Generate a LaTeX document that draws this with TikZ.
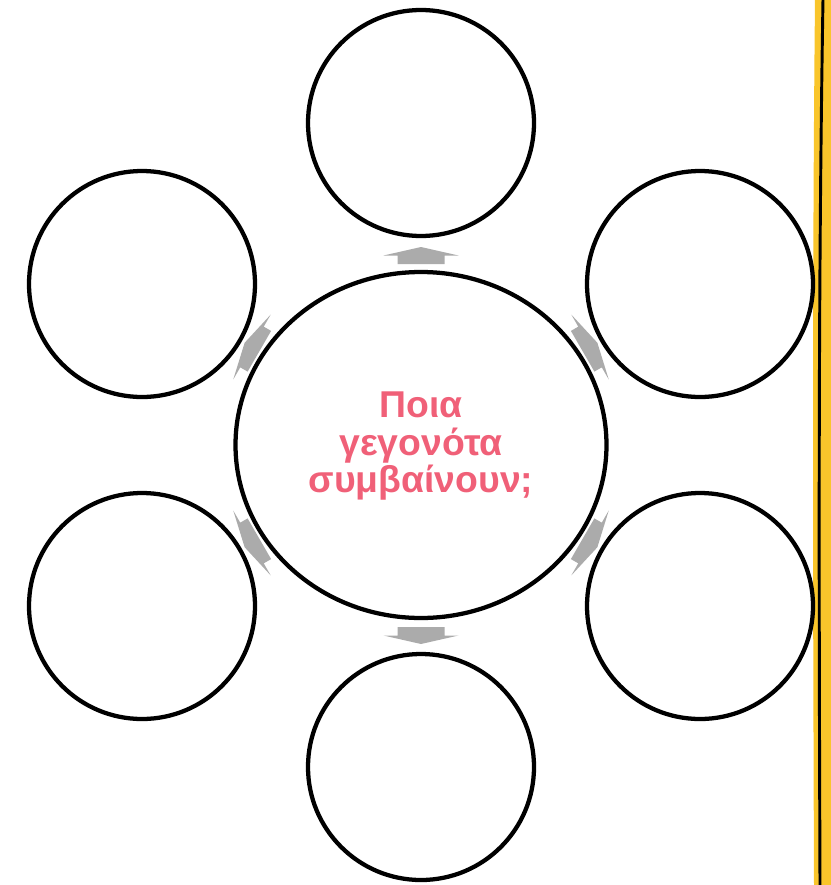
\documentclass[tikz,border=0pt]{standalone}
\usepackage{fontspec}
\setmainfont{Liberation Sans}
\usetikzlibrary{shapes.geometric}
\definecolor{qpink}{HTML}{F06078}
\definecolor{qgray}{HTML}{ABABAB}
\definecolor{qyellow}{HTML}{F9C52B}
\tikzset{
  outercircle/.style={draw=black, line width=3.2pt, circle, inner sep=0pt, minimum size=169.5pt},
  centerellipse/.style={draw=black, line width=3.2pt, ellipse, inner sep=0pt, minimum width=278.25pt, minimum height=259.5pt},
  qtext/.style={text=qpink, font=\bfseries\fontsize{28pt}{30pt}\selectfont, anchor=base, inner sep=0pt},
  garrow/.pic={
    \fill[qgray] (-8.5,-23.5) -- (0,-23.5) -- (0,-37.5) -- (8.5,0) -- (0,37.5) -- (0,23.5) -- (-8.5,23.5) -- cycle;
  }
}
\begin{document}
\begin{tikzpicture}[x=0.75pt,y=-0.75pt]
\useasboundingbox (0,0) rectangle (831,885);
% yellow side strip
\fill[qyellow] (815,-1) .. controls (812,300) and (813,600) .. (814,886) -- (832,886) -- (832,-1) -- cycle;
\draw[black, line width=2.2pt] (823,-1) .. controls (818,300) and (819,600) .. (820,886);
% center
\node[centerellipse] (c) at (421,445) {};
\node[qtext] (q1) at (421,417) {Ποια};
\node[qtext] (q2) at (421,455.5) {γεγονότα};
\node[qtext] (q3) at (421,492) {συμβαίνουν;};
% outer circles
\node[outercircle] (t) at (421,123) {};
\node[outercircle] (ul) at (142,284) {};
\node[outercircle] (ur) at (700,284) {};
\node[outercircle] (ll) at (142,606) {};
\node[outercircle] (lr) at (700,606) {};
\node[outercircle] (b) at (421,767) {};
% arrows
\pic[rotate=90] at (421,255.5) {garrow};
\pic[rotate=270] at (421,635.5) {garrow};
\pic[rotate=30] at (590,347) {garrow};
\pic[rotate=150] at (252,347) {garrow};
\pic[rotate=210] at (252,543) {garrow};
\pic[rotate=330] at (590,543) {garrow};
\end{tikzpicture}
\end{document}
